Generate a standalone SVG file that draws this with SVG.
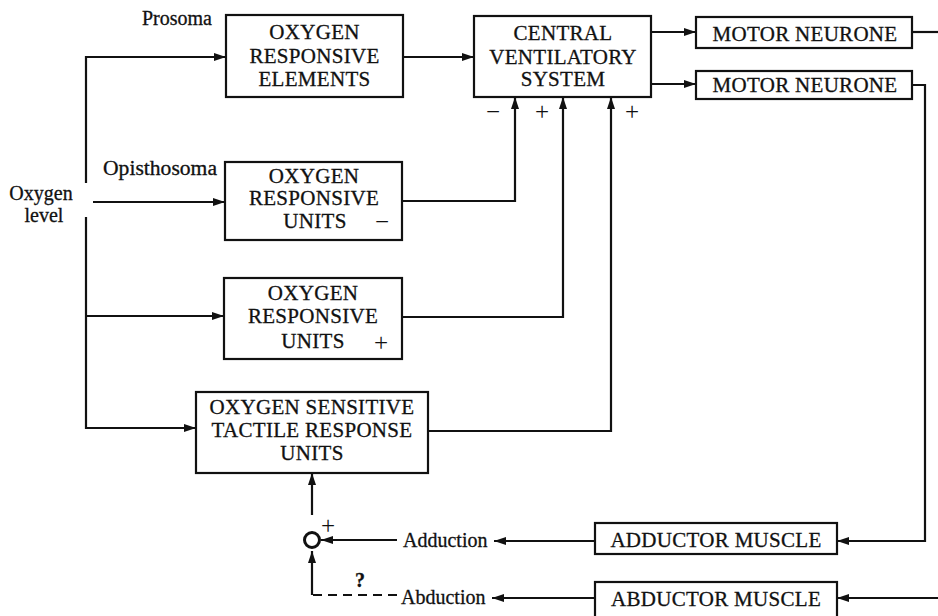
<svg xmlns="http://www.w3.org/2000/svg" width="938" height="616" viewBox="0 0 938 616">
<style>
.box{fill:#fff;stroke:#111;stroke-width:2.2}
.t{font-family:"Liberation Serif","Times New Roman",serif;font-size:21px;fill:#111;text-anchor:middle;letter-spacing:0.3px;stroke:#111;stroke-width:0.3}
.l{font-family:"Liberation Serif","Times New Roman",serif;font-size:20px;fill:#111;stroke:#111;stroke-width:0.3}
.sg{font-family:"Liberation Serif","Times New Roman",serif;font-size:25px;fill:#111;text-anchor:middle}
.ln{fill:none;stroke:#111;stroke-width:2.2}
.dash{fill:none;stroke:#111;stroke-width:2.2;stroke-dasharray:9 6}
</style>
<defs>
<marker id="ah" viewBox="0 0 12 8" refX="12" refY="4" markerWidth="12" markerHeight="8" markerUnits="userSpaceOnUse" orient="auto">
<path d="M0,0 L12,4 L0,8 z" fill="#111"/>
</marker>
</defs>

<g id="labels">
<text class="l" x="142" y="25">Prosoma</text>
<text class="l" x="103" y="175" textLength="114" lengthAdjust="spacingAndGlyphs">Opisthosoma</text>
<text class="l" x="41" y="200" text-anchor="middle">Oxygen</text>
<text class="l" x="44" y="222" text-anchor="middle">level</text>
</g>

<g id="ore">
<rect class="box" x="226" y="15" width="177" height="82"/>
<text class="t" x="314.5" y="39">OXYGEN</text>
<text class="t" x="314.5" y="63">RESPONSIVE</text>
<text class="t" x="314.5" y="86">ELEMENTS</text>
</g>

<g id="cvs">
<rect class="box" x="474" y="16" width="177" height="81"/>
<text class="t" x="563" y="40">CENTRAL</text>
<text class="t" x="563" y="64">VENTILATORY</text>
<text class="t" x="563" y="86">SYSTEM</text>
</g>

<g id="mn1">
<rect class="box" x="696" y="17" width="216" height="31"/>
<text class="t" x="805" y="41" letter-spacing="0.8">MOTOR NEURONE</text>
</g>

<g id="mn2">
<rect class="box" x="696" y="71" width="216" height="28"/>
<text class="t" x="805" y="92" letter-spacing="0.8">MOTOR NEURONE</text>
</g>

<g id="oru-minus">
<rect class="box" x="225" y="162" width="177" height="78"/>
<text class="t" x="314" y="183">OXYGEN</text>
<text class="t" x="314" y="205">RESPONSIVE</text>
<text class="t" x="315" y="228">UNITS</text>
<text class="sg" x="382" y="230">−</text>
</g>

<g id="oru-plus">
<rect class="box" x="224" y="278" width="178" height="81"/>
<text class="t" x="313" y="300">OXYGEN</text>
<text class="t" x="313" y="323">RESPONSIVE</text>
<text class="t" x="313" y="348">UNITS</text>
<text class="sg" x="381" y="351">+</text>
</g>

<g id="tactile">
<rect class="box" x="196" y="392" width="232" height="81"/>
<text class="t" x="312" y="414">OXYGEN  SENSITIVE</text>
<text class="t" x="312" y="437">TACTILE RESPONSE</text>
<text class="t" x="312" y="460">UNITS</text>
</g>

<g id="adductor">
<rect class="box" x="595" y="523" width="242" height="31"/>
<text class="t" x="716" y="547">ADDUCTOR MUSCLE</text>
</g>

<g id="abductor">
<rect class="box" x="595" y="582" width="242" height="40"/>
<text class="t" x="716" y="606">ABDUCTOR MUSCLE</text>
</g>

<g id="summing">
<circle cx="312" cy="540" r="7.5" fill="none" stroke="#111" stroke-width="3"/>
<text class="sg" x="328" y="534" font-size="20">+</text>
</g>

<g id="feedback-labels">
<text class="l" x="403" y="547" font-size="21">Adduction</text>
<text class="l" x="401" y="604" font-size="21">Abduction</text>
<text class="l" x="360" y="587" text-anchor="middle" font-size="18" font-weight="bold">?</text>
</g>

<g id="signs">
<text class="sg" x="493" y="120">−</text>
<text class="sg" x="542" y="120">+</text>
<text class="sg" x="632" y="120">+</text>
</g>

<g id="connectors">
<path class="ln" d="M86,183 L86,57 L226,57" marker-end="url(#ah)"/>
<path class="ln" d="M93,202 L225,202" marker-end="url(#ah)"/>
<path class="ln" d="M86,217 L86,428 L196,428" marker-end="url(#ah)"/>
<path class="ln" d="M86,316 L224,316" marker-end="url(#ah)"/>
<path class="ln" d="M403,57 L474,57" marker-end="url(#ah)"/>
<path class="ln" d="M402,201 L515,201 L515,97" marker-end="url(#ah)"/>
<path class="ln" d="M402,317 L563,317 L563,97" marker-end="url(#ah)"/>
<path class="ln" d="M428,431 L611,431 L611,97" marker-end="url(#ah)"/>
<path class="ln" d="M651,32 L696,32" marker-end="url(#ah)"/>
<path class="ln" d="M651,84 L696,84" marker-end="url(#ah)"/>
<path class="ln" d="M912,32 L938,32"/>
<path class="ln" d="M912,85 L925,85 L925,541 L837,541" marker-end="url(#ah)"/>
<path class="ln" d="M938,598 L837,598" marker-end="url(#ah)"/>
<path class="ln" d="M595,541 L494,541" marker-end="url(#ah)"/>
<path class="ln" d="M595,598 L492,598" marker-end="url(#ah)"/>
<path class="ln" d="M397,540 L321,540" marker-end="url(#ah)"/>
<path class="dash" d="M397,595 L312,595"/>
<path class="ln" d="M312,595 L312,551" marker-end="url(#ah)"/>
<path class="ln" d="M312,515 L312,473" marker-end="url(#ah)"/>
</g>
</svg>
